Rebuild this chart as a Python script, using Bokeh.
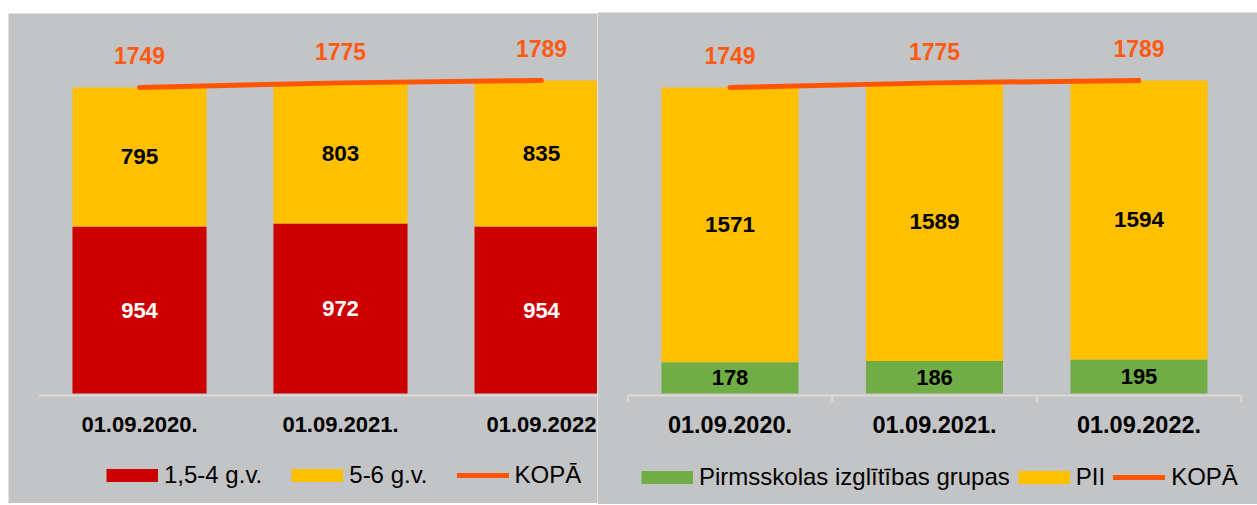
from bokeh.plotting import figure
from bokeh.layouts import row
from bokeh.models import Range1d, Legend, LegendItem
from bokeh.core.properties import value
from bokeh.embed import file_html
from bokeh.resources import INLINE

# ---------------- data ----------------
dates_left = ["01.09.2020.", "01.09.2021.", "01.09.2022"]
age_15_4 = [954, 972, 954]          # 1,5-4 g.v.
age_5_6 = [795, 803, 835]           # 5-6 g.v.
total_left = [1749, 1775, 1789]     # KOPĀ

dates_right = ["01.09.2020.", "01.09.2021.", "01.09.2022."]
groups = [178, 186, 195]            # Pirmsskolas izglītības grupas
pii = [1571, 1589, 1594]            # PII
total_right = [1749, 1775, 1789]    # KOPĀ

legend_left = ["1,5-4 g.v.", "5-6 g.v.", "KOPĀ"]
legend_right = ["Pirmsskolas izglītības grupas", "PII", "KOPĀ"]

# ---------------- style ----------------
RED = "#CC0000"
YELLOW = "#FFC000"
GREEN = "#70AD47"
ORANGE = "#FF5500"
ORANGE_TXT = "#FF5A14"
BG = "#C3C4C6"
AXIS = "#D9D9D9"
FONT = "Liberation Sans"
PX = 0.175            # pixels per unit on the value axis
NAN = float("nan")


def panel(dates, lower, upper, totals, colors, lower_txt, labels, width, height,
          margin, base_px, x0_px, step_px, bar_w, ticks, leg_loc, leg_spacing,
          cat_font):
    n = len(dates)
    xs = list(range(n))
    p = figure(width=width, height=height, output_backend="svg",
               toolbar_location=None, x_axis_type=None, y_axis_type=None,
               min_border=0, min_border_left=0, min_border_right=0,
               min_border_top=0, min_border_bottom=0)
    p.margin = margin
    p.x_range = Range1d(-x0_px / step_px, (width - x0_px) / step_px)
    p.y_range = Range1d(-base_px / PX, (height - base_px) / PX)
    p.background_fill_color = BG
    p.border_fill_color = BG
    p.outline_line_color = None
    p.grid.visible = False

    tops = [a + b for a, b in zip(lower, upper)]
    p.vbar(x=xs, bottom=0, top=lower, width=bar_w, fill_color=colors[0], line_color=None)
    p.vbar(x=xs, bottom=lower, top=tops, width=bar_w, fill_color=colors[1], line_color=None)

    # axis line + ticks
    ya = -2 / PX
    p.segment(x0=[-0.5], y0=[ya], x1=[n - 0.5], y1=[ya], line_color=AXIS, line_width=2)
    if ticks:
        tx = [i - 0.5 for i in range(n + 1)]
        p.segment(x0=tx, y0=[ya] * len(tx), x1=tx, y1=[ya - 7 / PX] * len(tx),
                  line_color=AXIS, line_width=2)

    # segment labels
    p.text(x=xs, y=[v / 2 for v in lower], text=[str(v) for v in lower],
           text_font=value(FONT), text_font_style="bold", text_font_size="22px",
           text_color=lower_txt, text_align="center", text_baseline="middle")
    p.text(x=xs, y=[a + b / 2 for a, b in zip(lower, upper)], text=[str(v) for v in upper],
           text_font=value(FONT), text_font_style="bold", text_font_size="22.5px",
           text_color="black", text_align="center", text_baseline="middle")

    # total line + labels
    ln = p.line(x=xs, y=totals, line_color=ORANGE, line_width=5, line_cap="round")
    p.text(x=xs, y=[t + 31.5 / PX for t in totals], text=[str(t) for t in totals],
           text_font=value(FONT), text_font_style="bold", text_font_size="23px",
           text_color=ORANGE_TXT, text_align="center", text_baseline="middle")

    # category labels
    p.text(x=xs, y=[-31 / PX] * n, text=dates,
           text_font=value(FONT), text_font_style="bold", text_font_size=cat_font,
           text_color="black", text_align="center", text_baseline="middle")

    # legend (swatch proxies drawn as thick lines for exact swatch size)
    sw1 = p.line(x=[NAN], y=[NAN], line_color=colors[0], line_width=13, line_cap="butt")
    sw2 = p.line(x=[NAN], y=[NAN], line_color=colors[1], line_width=13, line_cap="butt")
    items = [LegendItem(label=labels[0], renderers=[sw1]),
             LegendItem(label=labels[1], renderers=[sw2]),
             LegendItem(label=labels[2], renderers=[ln])]
    leg = Legend(items=items, orientation="horizontal", location=leg_loc,
                 glyph_width=52, glyph_height=28, label_height=28,
                 label_standoff=6, spacing=leg_spacing, padding=0, margin=0,
                 background_fill_alpha=0, border_line_alpha=0,
                 label_text_font=FONT, label_text_font_size="24px",
                 label_text_color="black")
    p.add_layout(leg)
    return p


left = panel(dates_left, age_15_4, age_5_6, total_left, [RED, YELLOW], "white",
             legend_left, 589, 490, (13, 0, 0, 8), 110, 131, 201, 0.667, False,
             (98, 14), 29, "22px")
right = panel(dates_right, groups, pii, total_right, [GREEN, YELLOW], "black",
              legend_right, 660, 492, (12, 0, 0, 0), 111, 132.5, 204.5, 0.67, True,
              (44, 13), 8, "23.5px")

layout = row(left, right, spacing=0)
open("out.html", "w").write(file_html(layout, INLINE))
